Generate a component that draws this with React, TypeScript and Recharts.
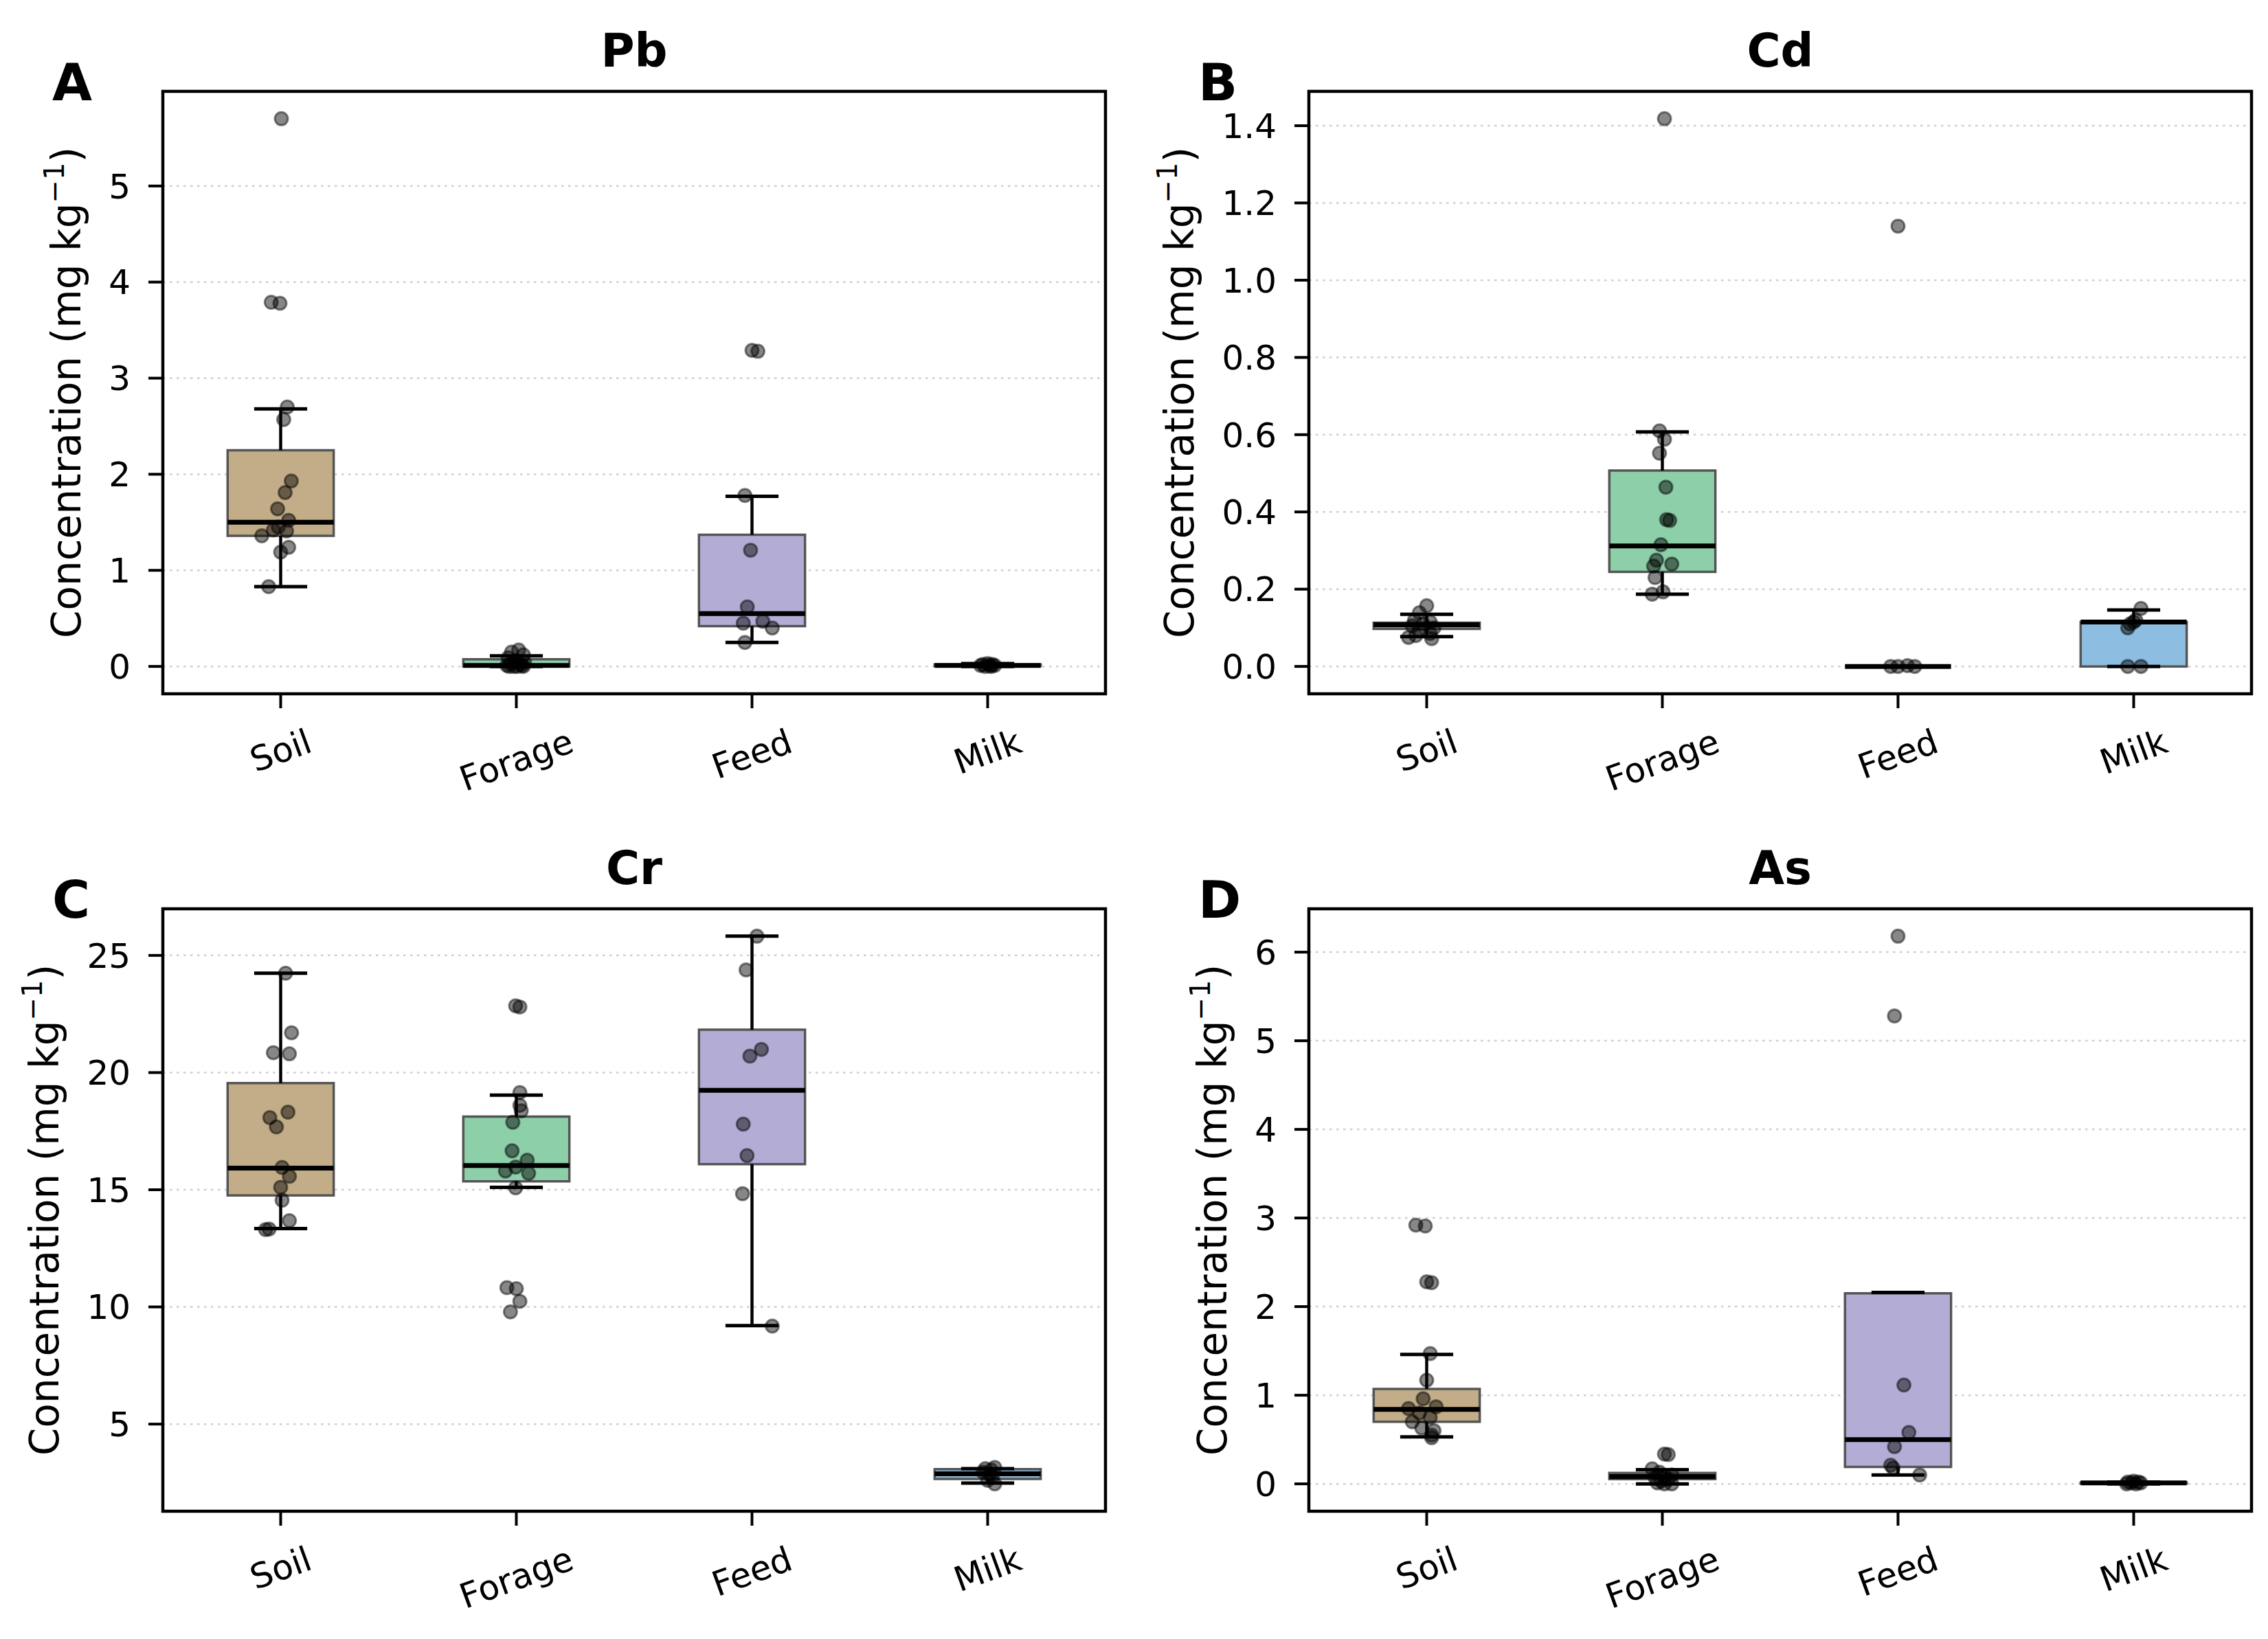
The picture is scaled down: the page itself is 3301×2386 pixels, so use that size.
import React from 'react';
import {
  ComposedChart,
  XAxis,
  YAxis,
  CartesianGrid,
  Scatter,
  ReferenceArea,
  ReferenceLine,
} from 'recharts';

const CATEGORIES = ['Soil', 'Forage', 'Feed', 'Milk'];
const BOX_COLORS = ['#c2ad88', '#8ccfa8', '#b3add6', '#8dbde0'];

// Box statistics per category: [whisker low, q1, median, q3, whisker high]
const PB_BOXES = [
  [0.83, 1.36, 1.5, 2.25, 2.68],
  [0.0, 0.0, 0.01, 0.075, 0.11],
  [0.25, 0.42, 0.55, 1.37, 1.77],
  [0.0, 0.005, 0.01, 0.02, 0.03],
];
const PB_POINTS = [
  [5.7, 3.79, 3.78, 2.7, 2.57, 1.93, 1.81, 1.64, 1.52, 1.45, 1.42, 1.41, 1.36, 1.24, 1.19, 0.83],
  [0.17, 0.15, 0.12, 0.09, 0.06, 0.04, 0.03, 0.02, 0.01, 0.01, 0.0, 0.0, 0.0, 0.0],
  [3.29, 3.28, 1.78, 1.21, 0.62, 0.47, 0.45, 0.4, 0.25],
  [0.03, 0.02, 0.02, 0.01, 0.01, 0.01, 0.0, 0.0],
];
const PB_JITTER = [
  [0.003, -0.04, -0.003, 0.028, 0.013, 0.045, 0.019, -0.013, 0.034, -0.01, -0.031, 0.025, -0.08, 0.034, 0.0, -0.051],
  [0.01, -0.02, 0.03, -0.035, 0.0, 0.035, -0.025, 0.015, -0.04, 0.025, -0.01, 0.03, -0.03, 0.005],
  [0.0, 0.025, -0.03, -0.006, -0.02, 0.046, -0.037, 0.086, -0.03],
  [0.0, -0.02, 0.02, -0.03, 0.01, 0.03, -0.01, 0.015],
];
const PB_TICKS = [0, 1, 2, 3, 4, 5];

const CD_BOXES = [
  [0.077, 0.097, 0.108, 0.113, 0.135],
  [0.187, 0.245, 0.312, 0.507, 0.607],
  [0.0, 0.0, 0.0, 0.0, 0.0],
  [0.0, 0.0, 0.115, 0.115, 0.146],
];
const CD_POINTS = [
  [0.157, 0.139, 0.119, 0.115, 0.11, 0.105, 0.1, 0.095, 0.085, 0.08, 0.075, 0.072],
  [1.418, 0.61, 0.588, 0.552, 0.464, 0.38, 0.378, 0.315, 0.275, 0.265, 0.26, 0.23, 0.193, 0.187],
  [1.14, 0.002, 0.0, 0.0, 0.0],
  [0.15, 0.12, 0.115, 0.11, 0.1, 0.0, 0.0],
];
const CD_JITTER = [
  [0.0, -0.031, -0.052, 0.015, -0.015, -0.061, 0.031, -0.031, 0.015, -0.046, -0.077, 0.021],
  [0.009, -0.012, 0.009, -0.012, 0.015, 0.018, 0.031, -0.006, -0.025, 0.04, -0.037, -0.031, 0.003, -0.043],
  [0.0, 0.04, -0.031, 0.0, 0.071],
  [0.031, 0.009, 0.0, -0.015, -0.025, -0.025, 0.031],
];
const CD_TICKS = [0, 0.2, 0.4, 0.6, 0.8, 1.0, 1.2, 1.4];

const CR_BOXES = [
  [13.34, 14.76, 15.92, 19.55, 24.24],
  [15.1, 15.36, 16.03, 18.12, 19.04],
  [9.2, 16.09, 19.24, 21.83, 25.82],
  [2.48, 2.66, 2.88, 3.08, 3.1],
];
const CR_POINTS = [
  [24.24, 21.7, 20.85, 20.8, 18.31, 18.08, 17.68, 15.95, 15.57, 15.1, 14.55, 13.68, 13.32, 13.3],
  [22.85, 22.8, 19.15, 18.6, 18.37, 17.88, 16.66, 16.26, 15.97, 15.8, 15.7, 15.08, 10.82, 10.78, 10.24, 9.79],
  [25.82, 24.38, 20.99, 20.7, 17.8, 16.46, 14.83, 9.18],
  [3.15, 3.1, 3.05, 2.95, 2.85, 2.75, 2.6, 2.45],
];
const CR_JITTER = [
  [0.021, 0.046, -0.031, 0.037, 0.031, -0.046, -0.018, 0.006, 0.037, 0.0, 0.006, 0.037, -0.049, -0.064],
  [-0.003, 0.015, 0.015, 0.015, 0.021, -0.015, -0.018, 0.046, -0.003, -0.046, 0.052, -0.003, -0.04, 0.0, 0.015, -0.025],
  [0.021, -0.025, 0.04, -0.009, -0.037, -0.021, -0.04, 0.086],
  [0.03, -0.01, 0.015, -0.02, 0.01, 0.02, 0.0, 0.03],
];
const CR_TICKS = [5, 10, 15, 20, 25];

const AS_BOXES = [
  [0.53, 0.7, 0.84, 1.07, 1.46],
  [0.0, 0.053, 0.083, 0.124, 0.16],
  [0.1, 0.19, 0.5, 2.15, 2.16],
  [0.0, 0.005, 0.01, 0.015, 0.02],
];
const AS_POINTS = [
  [2.92, 2.91, 2.28, 2.27, 1.47, 1.17, 0.96, 0.87, 0.85, 0.8, 0.75, 0.7, 0.63, 0.6, 0.55, 0.52],
  [0.336, 0.33, 0.17, 0.13, 0.1, 0.09, 0.07, 0.05, 0.03, 0.01, 0.0, 0.0],
  [6.18, 5.28, 1.115, 0.58, 0.42, 0.21, 0.18, 0.1],
  [0.03, 0.02, 0.02, 0.01, 0.01, 0.0, 0.0],
];
const AS_JITTER = [
  [-0.046, -0.006, 0.0, 0.021, 0.015, 0.0, -0.015, 0.04, -0.077, -0.031, 0.015, -0.061, -0.021, 0.031, 0.021, 0.021],
  [0.009, 0.025, -0.043, -0.012, 0.04, 0.009, -0.031, 0.025, -0.006, -0.021, 0.04, 0.009],
  [0.0, -0.015, 0.025, 0.046, -0.015, -0.031, -0.021, 0.092],
  [0.0, -0.025, 0.02, -0.01, 0.03, -0.03, 0.01],
];
const AS_TICKS = [0, 1, 2, 3, 4, 5, 6];

// layout (px)
const AXIS_W = 237;
const MARGIN_TOP = 133;
const PLOT_W = 1372;
const PLOT_H = 877;
const XAXIS_H = 190;
const RIGHT = 20;
const CHART_W = AXIS_W + PLOT_W + RIGHT;
const CHART_H = MARGIN_TOP + PLOT_H + XAXIS_H;

const TICK_FONT = 50;
const LABEL_FONT = 58;
const TITLE_FONT = 67;
const LETTER_FONT = 75;
const TICK_SIZE = 21;

const BOX_W = 0.45;
const CAP_W = BOX_W / 2;
const ROT = (20 * Math.PI) / 180;

let measureCtx: CanvasRenderingContext2D | null = null;
function textWidth(s: string, size: number) {
  if (!measureCtx) measureCtx = document.createElement('canvas').getContext('2d');
  if (!measureCtx) return s.length * size * 0.6;
  measureCtx.font = `${size}px "DejaVu Sans"`;
  return measureCtx.measureText(s).width;
}

// rotated category label, top of its rotated bounding box sits at y
function CategoryTick(props: any) {
  const { x, y, payload } = props;
  const name = CATEGORIES[payload.value];
  if (!name) return null;
  const w = textWidth(name, TICK_FONT);
  const h = TICK_FONT * 1.164;
  const cy = y + (w * Math.sin(ROT) + h * Math.cos(ROT)) / 2;
  return (
    <text
      x={x}
      y={cy + 0.346 * TICK_FONT}
      textAnchor="middle"
      fontSize={TICK_FONT}
      fill="#000"
      transform={`rotate(-20 ${x} ${cy})`}
    >
      {name}
    </text>
  );
}

function PointDot(props: any) {
  const { cx, cy } = props;
  if (cx == null || cy == null) return null;
  return (
    <circle
      cx={cx}
      cy={cy}
      r={9.5}
      fill="#000"
      fillOpacity={0.47}
      stroke="#000"
      strokeOpacity={0.47}
      strokeWidth={3}
    />
  );
}

interface PanelProps {
  letter: string;
  title: string;
  left: number;
  top: number;
  values: number[][];
  jitter: number[][];
  boxes: number[][];
  ticks: number[];
  decimals: number;
}

function Panel({ letter, title, left, top, values, jitter, boxes, ticks, decimals }: PanelProps) {
  const all = values.flat().concat(boxes.flat());
  const lo = Math.min(...all);
  const hi = Math.max(...all);
  const pad = (hi - lo) * 0.05;
  const domain: [number, number] = [lo - pad, hi + pad];

  const points = values.flatMap((vals, i) =>
    vals.map((v, k) => ({ x: i + jitter[i][k], y: v }))
  );

  const fmt = (v: number) => v.toFixed(decimals);
  const maxTickW = Math.max(...ticks.map((t) => textWidth(fmt(t), TICK_FONT)));
  const labelX = AXIS_W - (TICK_SIZE + 26 + maxTickW + 28 + 0.236 * LABEL_FONT);
  const labelY = MARGIN_TOP + PLOT_H / 2;

  const yLabel = () => (
    <text
      x={labelX}
      y={labelY}
      textAnchor="middle"
      fontSize={LABEL_FONT}
      fill="#000"
      transform={`rotate(-90 ${labelX} ${labelY})`}
    >
      Concentration (mg kg
      <tspan dy={-24} fontSize={40}>
        −1
      </tspan>
      <tspan dy={24}>)</tspan>
    </text>
  );

  return (
    <div style={{ position: 'absolute', left: left - AXIS_W, top: top - MARGIN_TOP, width: CHART_W, height: CHART_H }}>
      <ComposedChart
        width={CHART_W}
        height={CHART_H}
        data={points}
        margin={{ top: MARGIN_TOP, right: RIGHT, bottom: 0, left: 0 }}
      >
        <CartesianGrid vertical={false} stroke="#cfcfcf" strokeWidth={2.5} strokeDasharray="3.5 6.5" />
        <XAxis
          dataKey="x"
          type="number"
          domain={[-0.5, 3.5]}
          allowDataOverflow
          ticks={[0, 1, 2, 3]}
          height={XAXIS_H}
          axisLine={false}
          tickLine={{ stroke: '#000', strokeWidth: 4 }}
          tickSize={TICK_SIZE}
          tickMargin={19}
          tick={<CategoryTick />}
          interval={0}
        />
        <YAxis
          dataKey="y"
          type="number"
          domain={domain}
          allowDataOverflow
          ticks={ticks}
          width={AXIS_W}
          axisLine={false}
          tickLine={{ stroke: '#000', strokeWidth: 4 }}
          tickSize={TICK_SIZE}
          tickMargin={26}
          tickFormatter={fmt}
          tick={{ fontSize: TICK_FONT, fill: '#000' }}
          interval={0}
          label={yLabel}
        />
        {boxes.map((b, i) => (
          <ReferenceArea
            key={`box-${i}`}
            x1={i - BOX_W / 2}
            x2={i + BOX_W / 2}
            y1={b[1]}
            y2={b[3]}
            fill={BOX_COLORS[i]}
            fillOpacity={1}
            stroke="#555"
            strokeWidth={3.5}
            ifOverflow="visible"
          />
        ))}
        {boxes.map((b, i) => (
          <ReferenceLine key={`wl-${i}`} segment={[{ x: i, y: b[0] }, { x: i, y: b[1] }]} stroke="#000" strokeWidth={4.5} ifOverflow="visible" />
        ))}
        {boxes.map((b, i) => (
          <ReferenceLine key={`wh-${i}`} segment={[{ x: i, y: b[3] }, { x: i, y: b[4] }]} stroke="#000" strokeWidth={4.5} ifOverflow="visible" />
        ))}
        {boxes.map((b, i) => (
          <ReferenceLine
            key={`cl-${i}`}
            segment={[{ x: i - CAP_W / 2, y: b[0] }, { x: i + CAP_W / 2, y: b[0] }]}
            stroke="#000"
            strokeWidth={5}
            ifOverflow="visible"
          />
        ))}
        {boxes.map((b, i) => (
          <ReferenceLine
            key={`ch-${i}`}
            segment={[{ x: i - CAP_W / 2, y: b[4] }, { x: i + CAP_W / 2, y: b[4] }]}
            stroke="#000"
            strokeWidth={5}
            ifOverflow="visible"
          />
        ))}
        {boxes.map((b, i) => (
          <ReferenceLine
            key={`med-${i}`}
            segment={[{ x: i - BOX_W / 2, y: b[2] }, { x: i + BOX_W / 2, y: b[2] }]}
            stroke="#000"
            strokeWidth={7}
            ifOverflow="visible"
          />
        ))}
        <Scatter dataKey="y" shape={<PointDot />} isAnimationActive={false} />
        <ReferenceArea
          x1={-0.5}
          x2={3.5}
          y1={domain[0]}
          y2={domain[1]}
          fill="none"
          stroke="#000"
          strokeWidth={4.5}
          ifOverflow="visible"
        />
      </ComposedChart>
      <svg
        width={CHART_W}
        height={CHART_H}
        style={{ position: 'absolute', left: 0, top: 0, pointerEvents: 'none' }}
      >
        <text
          x={AXIS_W + PLOT_W / 2}
          y={MARGIN_TOP - 36}
          textAnchor="middle"
          fontSize={TITLE_FONT}
          fontWeight="bold"
          fill="#000"
        >
          {title}
        </text>
        <text x={AXIS_W - 161} y={MARGIN_TOP + 13} fontSize={LETTER_FONT} fontWeight="bold" fill="#000">
          {letter}
        </text>
      </svg>
    </div>
  );
}

export default function App() {
  return (
    <div
      style={{
        position: 'absolute',
        left: 0,
        top: 0,
        width: 3301,
        height: 2386,
        background: '#fff',
        fontFamily: '"DejaVu Sans", sans-serif',
        overflow: 'hidden',
      }}
    >
      <Panel letter="A" title="Pb" left={237} top={133} values={PB_POINTS} jitter={PB_JITTER} boxes={PB_BOXES} ticks={PB_TICKS} decimals={0} />
      <Panel letter="B" title="Cd" left={1905} top={133} values={CD_POINTS} jitter={CD_JITTER} boxes={CD_BOXES} ticks={CD_TICKS} decimals={1} />
      <Panel letter="C" title="Cr" left={237} top={1323} values={CR_POINTS} jitter={CR_JITTER} boxes={CR_BOXES} ticks={CR_TICKS} decimals={0} />
      <Panel letter="D" title="As" left={1905} top={1323} values={AS_POINTS} jitter={AS_JITTER} boxes={AS_BOXES} ticks={AS_TICKS} decimals={0} />
    </div>
  );
}
